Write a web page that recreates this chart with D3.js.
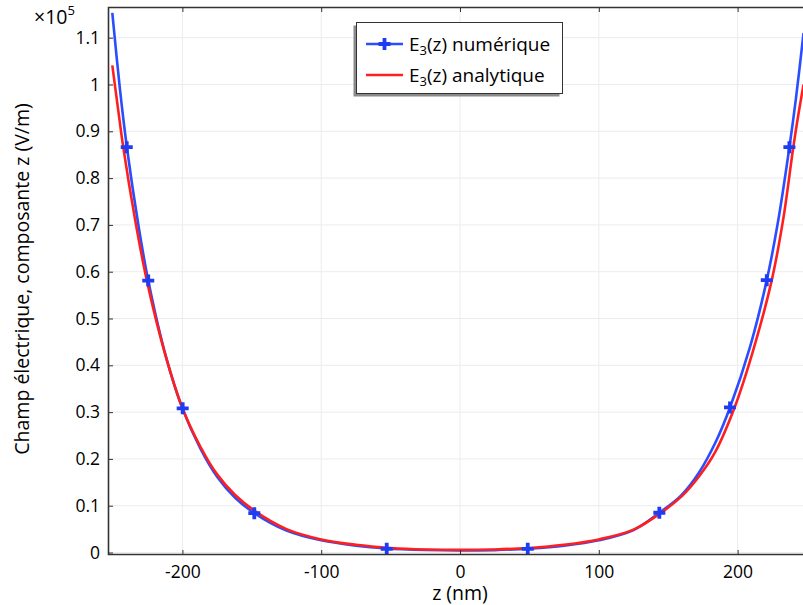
<!DOCTYPE html>
<html>
<head>
<meta charset="utf-8">
<script src="https://cdn.jsdelivr.net/npm/d3@7"></script>
<style>
html,body{margin:0;padding:0;background:#fff;}
svg{display:block;font-family:"Open Sans",sans-serif;}
</style>
</head>
<body>
<svg id="chart" width="803" height="605"></svg>
<script>
// ---- data (values in units of 1e5 V/m, z in nm) ----
const numZ = [-250.5,-245,-240,-232,-224.6,-212,-200,-187,-175,-162,-148,-125,-100,-75,-53,-25,0,25,50,75,100,125,143.6,159,172,184,194.5,209,221,229,237.3,242,247.5];
const numV = [1.153,0.99,0.866,0.705,0.581,0.42,0.308,0.222,0.162,0.117,0.084,0.047,0.026,0.0145,0.0085,0.0053,0.0043,0.0052,0.0084,0.0145,0.026,0.048,0.085,0.121,0.17,0.235,0.31,0.44,0.582,0.705,0.866,0.97,1.11];
const anaZ = [-250.5,-246,-242.6,-234,-225.6,-213,-200,-187,-175,-162,-148,-125,-100,-75,-50,-25,0,25,50,75,100,125,145.3,160,172,183.7,197.8,211,224.6,233,240.1,244,247.5];
const anaV = [1.041,0.94,0.866,0.71,0.581,0.43,0.309,0.226,0.167,0.123,0.089,0.05,0.028,0.0165,0.0098,0.0066,0.0056,0.0066,0.0098,0.0165,0.028,0.049,0.086,0.121,0.162,0.214,0.31,0.43,0.582,0.715,0.866,0.94,1.0];
const markZ = [-240.1,-224.6,-199.8,-148.2,-52.8,48.8,143.6,194.5,221,237.3];
const markV = [0.866,0.581,0.308,0.084,0.008,0.008,0.085,0.31,0.582,0.866];
const xTicks = [-200,-100,0,100,200];
const yTicks = [0,0.1,0.2,0.3,0.4,0.5,0.6,0.7,0.8,0.9,1,1.1];
const legendLabels = ["numérique","analytique"];

const svg = d3.select("#chart");
const L = 108, T = 7, R = 803, B = 555;
const x = d3.scaleLinear().domain([-253.6, 247.1]).range([L, R]);
const y = d3.scaleLinear().domain([-0.0053, 1.1656]).range([B, T]);
const FS = "17.5px", FT = "19.5px", FL = "19px";
const axisCol = "#333";

// grid
const grid = svg.append("g");
grid.selectAll("line.gx").data(xTicks).enter().append("line")
  .attr("x1", d=>x(d)).attr("x2", d=>x(d)).attr("y1", T).attr("y2", B)
  .attr("stroke", "#ececec").attr("stroke-width", 1);
grid.selectAll("line.gy").data(yTicks).enter().append("line")
  .attr("x1", L).attr("x2", R).attr("y1", d=>y(d)).attr("y2", d=>y(d))
  .attr("stroke", "#ececec").attr("stroke-width", 1);

// clip
svg.append("clipPath").attr("id","clip").append("rect")
  .attr("x", L).attr("y", T).attr("width", R-L).attr("height", B-T);

const line = d3.line().x(d=>x(d[0])).y(d=>y(d[1])).curve(d3.curveCatmullRom.alpha(0.5));
const plot = svg.append("g").attr("clip-path","url(#clip)");
const blue = "#2a4dff", red = "#ff1f1f";
plot.append("path").datum(numZ.map((z,i)=>[z,numV[i]]))
  .attr("d", line).attr("fill","none").attr("stroke", blue).attr("stroke-width", 2.6);
plot.append("path").datum(anaZ.map((z,i)=>[z,anaV[i]]))
  .attr("d", line).attr("fill","none").attr("stroke", red).attr("stroke-width", 2.6);

function plus(g, cx, cy, col){
  g.append("path").attr("d", `M${cx-6},${cy}H${cx+6}M${cx},${cy-6}V${cy+6}`)
   .attr("stroke", col).attr("stroke-width", 3.8).attr("fill","none");
}
markZ.forEach((z,i)=>plus(plot, x(z), y(markV[i]), "#1f3cf5"));

// axes
const ax = svg.append("g");
const xAxis = d3.axisBottom(x).tickValues(xTicks).tickSize(-5).tickPadding(11).tickFormat(d=>String(d));
const gx = ax.append("g").attr("transform", `translate(0,${B})`).call(xAxis);
const xAxisTop = d3.axisTop(x).tickValues(xTicks).tickSize(-5).tickFormat("");
const gxt = ax.append("g").attr("transform", `translate(0,${T})`).call(xAxisTop);
const yAxis = d3.axisLeft(y).tickValues(yTicks).tickSize(-5).tickPadding(8).tickFormat(d=>String(+d.toFixed(1)));
const gy = ax.append("g").attr("transform", `translate(${L},0)`).call(yAxis);
[gx,gxt,gy].forEach(g=>{
  g.select(".domain").remove();
  g.selectAll(".tick line").attr("stroke", axisCol).attr("stroke-width",1);
  g.selectAll(".tick text").attr("fill","#000").attr("font-size",FS).attr("font-family","'Open Sans',sans-serif");
});
// frame
ax.append("path").attr("d", `M${R},${T+0.5}H${L+0.5}V${B-0.5}H${R}`)
  .attr("fill","none").attr("stroke", axisCol).attr("stroke-width", 1.6);

// axis titles
svg.append("text").attr("x", x(0)).attr("y", 600).attr("text-anchor","middle")
  .attr("font-size", FT).text("z (nm)");
svg.append("text").attr("transform", `translate(29,279) rotate(-90)`).attr("text-anchor","middle")
  .attr("font-size", FT).text("Champ électrique, composante z (V/m)");
const mult = svg.append("text").attr("x", 34).attr("y", 24).attr("font-size", FT);
mult.append("tspan").text("×10");
mult.append("tspan").attr("font-size","13px").attr("dy", -9).text("5");

// legend
const lg = svg.append("g");
lg.append("rect").attr("x", 353.5).attr("y", 25.5).attr("width", 206).attr("height", 71).attr("fill", "#8a8a8a");
lg.append("rect").attr("x", 356.5).attr("y", 22.5).attr("width", 206).attr("height", 71).attr("fill", "#fff").attr("stroke", axisCol).attr("stroke-width", 1);
const rows = [{col: blue, y: 44, lab: legendLabels[0], mark: true},{col: red, y: 75, lab: legendLabels[1], mark: false}];
rows.forEach(r=>{
  lg.append("line").attr("x1", 366).attr("x2", 403).attr("y1", r.y).attr("y2", r.y).attr("stroke", r.col).attr("stroke-width", 2.4);
  if (r.mark) plus(lg, 384.5, r.y, "#1f3cf5");
  const t = lg.append("text").attr("x", 409).attr("y", r.y + 6.5).attr("font-size", FL);
  t.append("tspan").text("E");
  t.append("tspan").attr("font-size","13px").attr("dy", 4).text("3");
  t.append("tspan").attr("dy", -4).text("(z) " + r.lab);
});
</script>
</body>
</html>
